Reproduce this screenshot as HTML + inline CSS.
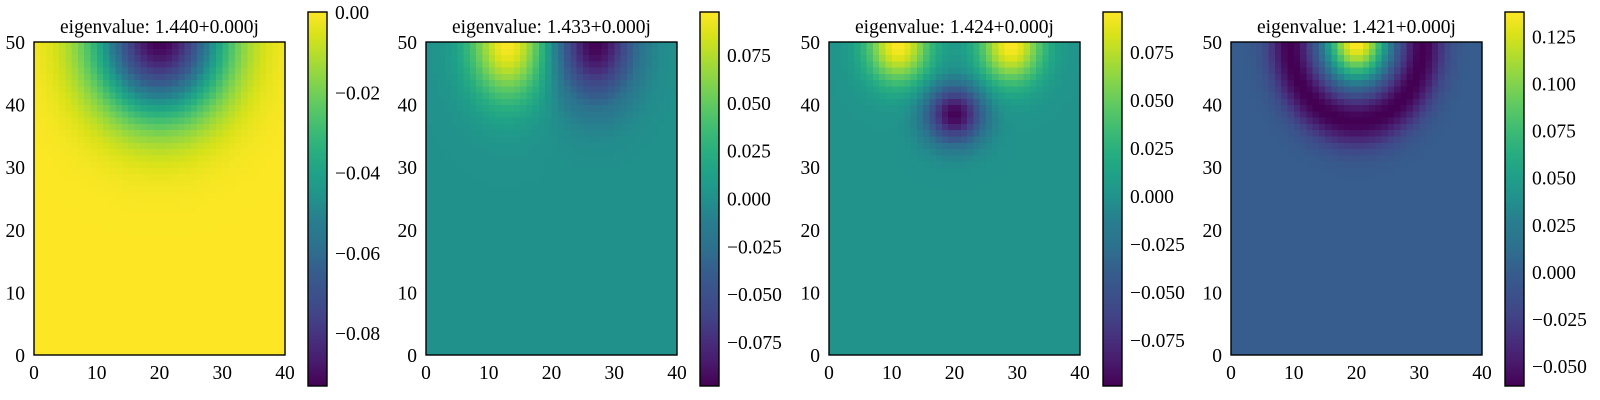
<!DOCTYPE html>
<html><head><meta charset="utf-8">
<style>
html,body{margin:0;padding:0;background:#fff;width:1600px;height:400px;overflow:hidden}
svg text{font-family:"Liberation Serif",serif;font-size:19.5px;fill:#000}
</style></head>
<body>
<svg id="fig" xmlns="http://www.w3.org/2000/svg" width="1600" height="400" viewBox="0 0 1600 400"></svg>
<script>
// ---- data ----
const titles = ["eigenvalue: 1.440+0.000j","eigenvalue: 1.433+0.000j","eigenvalue: 1.424+0.000j","eigenvalue: 1.421+0.000j"];
const vmins = [-0.0932, -0.098, -0.099, -0.0606];
const vmaxs = [0.0, 0.0975, 0.0958, 0.138];
const xTicks = [0, 10, 20, 30, 40];
const yTicks = [0, 10, 20, 30, 40, 50];
const cbTicks1 = [0.00, -0.02, -0.04, -0.06, -0.08];
const cbTicks2 = [0.075, 0.050, 0.025, 0.000, -0.025, -0.050, -0.075];
const cbTicks3 = [0.075, 0.050, 0.025, 0.000, -0.025, -0.050, -0.075];
const cbTicks4 = [0.125, 0.100, 0.075, 0.050, 0.025, 0.000, -0.025, -0.050];
const cbDecimals = [2, 3, 3, 3];
// mode lobes: [cx, cy, rx, ry, ringRadius, width, amplitude]
const lobes1 = [[20, 50.5, 12, 14, 0, 0.85, -0.0932]];
const lobes2 = [[13, 50, 6, 9, 0, 1, 0.0975], [27, 50, 6, 9, 0, 1, -0.098]];
const lobes3 = [[11, 49.5, 5, 6, 0, 1, 0.0958], [29, 49.5, 5, 6, 0, 1, 0.0958], [20, 38.5, 4.5, 4.5, 0, 1, -0.099]];
const lobes4 = [[20, 50, 4.5, 5.5, 0, 1, 0.14], [20, 50, 10.5, 12.5, 1, 0.36, -0.062]];
const nx = 40, ny = 50;

// ---- layout ----
const plotX = [34, 426, 829, 1231];
const plotW = 251, plotTop = 42, plotBot = 355;
const cbX = [308, 700, 1103, 1505];
const cbW = 19, cbTop = 12, cbBot = 386;
const lobes = [lobes1, lobes2, lobes3, lobes4];
const cbTicks = [cbTicks1, cbTicks2, cbTicks3, cbTicks4];

const vir = ["#440154","#481a6c","#472f7d","#414487","#3b528b","#355f8d","#2c728e","#287d8e","#21918c","#1fa088","#28ae80","#3fbc73","#5ec962","#84d44b","#addc30","#d8e219","#fde725"];
function hex(h){return [parseInt(h.substr(1,2),16),parseInt(h.substr(3,2),16),parseInt(h.substr(5,2),16)];}
const virRGB = vir.map(hex);
function viridis(t){
  t = Math.max(0, Math.min(1, t));
  const f = t * (virRGB.length - 1), i = Math.min(Math.floor(f), virRGB.length - 2), u = f - i;
  const a = virRGB[i], b = virRGB[i+1];
  return "rgb(" + [0,1,2].map(k => Math.round(a[k] + (b[k]-a[k])*u)).join(",") + ")";
}
function fieldValue(ls, x, y){
  let v = 0;
  for (const l of ls){
    const rho = Math.sqrt(((x-l[0])/l[2])**2 + ((y-l[1])/l[3])**2);
    v += l[6] * Math.exp(-(((rho - l[4]) / l[5]) ** 2));
  }
  return v;
}
const NS = "http://www.w3.org/2000/svg";
const svg = document.getElementById("fig");
function el(tag, attrs, parent){
  const e = document.createElementNS(NS, tag);
  for (const k in attrs) e.setAttribute(k, attrs[k]);
  (parent || svg).appendChild(e);
  return e;
}
const defs = el("defs", {});
function fmt(v, d){ const s = Math.abs(v).toFixed(d); return (v < -1e-12 ? "\u2212" : "") + s; }

for (let p = 0; p < 4; p++){
  const g = el("g", {});
  
  
  const x0 = plotX[p];
  const sx = v => x0 + v / nx * plotW;
  const sy = v => plotBot - v / ny * (plotBot - plotTop);
  const cmap = v => viridis((v - vmins[p]) / (vmaxs[p] - vmins[p]));
  const hm = el("g", {"shape-rendering":"crispEdges"}, g);
  
  
  for (let j = 0; j < ny; j++){
    for (let i = 0; i < nx; i++){
      const v = fieldValue(lobes[p], i + 0.5, j + 0.5);
      const r = el("rect", {x: sx(i), y: sy(j+1), width: sx(i+1)-sx(i)+0.6, height: sy(j)-sy(j+1)+0.6, fill: cmap(v)}, hm);
      
      
    }
  }
  const fr = el("rect", {x: x0, y: plotTop, width: plotW, height: plotBot-plotTop, fill:"none", stroke:"#000", "stroke-width":1.4}, g);
  
  
  const t = el("text", {x: x0 + plotW/2, y: 33, "text-anchor":"middle"}, g);
  t.textContent = titles[p];
  
  
  for (const xv of xTicks){
    const tx = el("text", {x: sx(xv), y: 379, "text-anchor":"middle"}, g);
    tx.textContent = xv;
    
    
  }
  for (const yv of yTicks){
    const ty = el("text", {x: x0 - 9, y: sy(yv) + 7, "text-anchor":"end"}, g);
    ty.textContent = yv;
    
    
  }
  // colorbar
  const gid = "cbg" + p;
  const lg = el("linearGradient", {id: gid, x1:0, y1:1, x2:0, y2:0}, defs);
  for (let k = 0; k < virRGB.length; k++){
    el("stop", {offset: (k/(virRGB.length-1)), "stop-color": vir[k]}, lg);
  }
  const cb = el("rect", {x: cbX[p], y: cbTop, width: cbW, height: cbBot-cbTop, fill:"url(#"+gid+")", stroke:"#000", "stroke-width":1.4}, g);
  
  
  const cy = v => cbBot - (v - vmins[p]) / (vmaxs[p] - vmins[p]) * (cbBot - cbTop);
  for (const tv of cbTicks[p]){
    const tl = el("text", {x: cbX[p] + cbW + 8, y: cy(tv) + 7}, g);
    tl.textContent = fmt(tv, cbDecimals[p]);
    
    
  }
}
</script>
</body></html>
